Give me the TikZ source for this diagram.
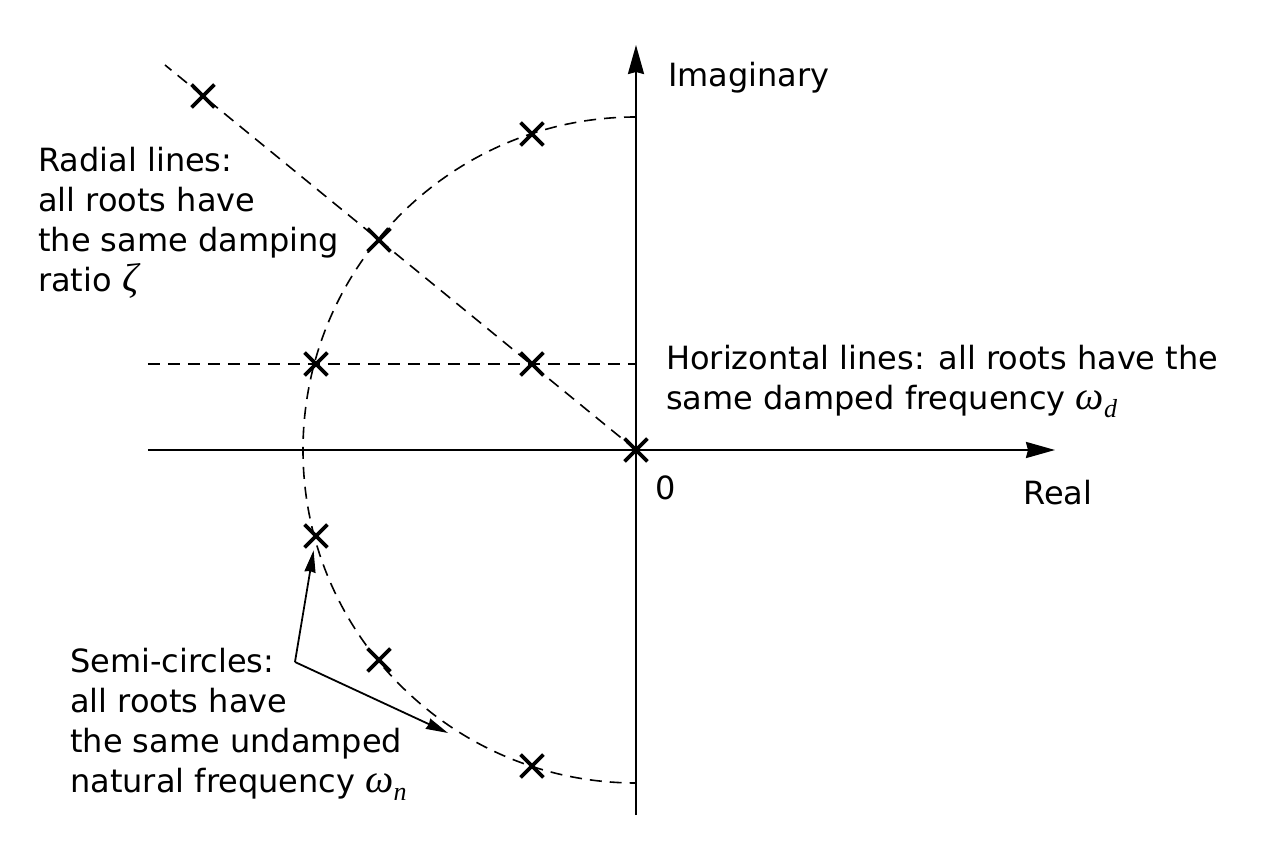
\documentclass[tikz,border=0pt]{standalone}
\usepackage{fontspec}
\setmainfont{DejaVu Sans}
\newfontfamily\grkfont{Liberation Serif}
\usetikzlibrary{positioning,arrows.meta,shapes.misc}

% italic serif symbols, with a lowered subscript
\newcommand{\grkit}[1]{{\fontsize{40}{40}\selectfont\grkfont\itshape #1}}
\newcommand{\omsub}[1]{\grkit{ω}\raisebox{-8pt}{\fontsize{26}{26}\selectfont\grkfont\itshape #1}}

\begin{document}
\begin{tikzpicture}[
	x=1pt, y=1pt,
	font=\fontsize{32}{40}\selectfont,
	% Define styles for the plot elements
	axis/.style={line width=2.2pt, -{Stealth[length=29pt,width=16pt,inset=2pt]}},
	guide/.style={line width=1.6pt, dash pattern=on 12pt off 8pt},
	root/.style={cross out, draw, line width=3.8pt, minimum size=19pt, inner sep=0pt},
	label/.style={align=left, anchor=base west, inner sep=0pt},
	pointer/.style={line width=1.8pt, -{Stealth[length=22pt,width=11pt,inset=1pt]}, shorten >=3pt}
	]

	\useasboundingbox (-636,-398) rectangle (625,450);

	% --- Coordinates ---
	\coordinate (O) at (0,0);
	\coordinate (reL) at (-488,0);
	\coordinate (reR) at (419,0);
	\coordinate (imB) at (0,-365);
	\coordinate (imT) at (0,405);
	\coordinate (radEnd) at (-471,385);
	\coordinate (hzL) at (-488,86);
	\coordinate (hzR) at (0,86);
	\coordinate (circT) at (0,333);

	% --- Guide lines ---
	\draw[guide] (O) -- (radEnd);
	\draw[guide] (hzL) -- (hzR);
	\draw[guide] (circT) arc[start angle=90, end angle=270, radius=333];

	% --- Axes ---
	\draw[axis] (reL) -- (reR);
	\draw[axis] (imB) -- (imT);

	% --- Roots ---
	\node[root] (p0) at (O) {};
	\node[root] (pa) at (-433,354) {};
	\node[root] (pb) at (-104,316) {};
	\node[root] (pc) at (-257,210) {};
	\node[root] (pd) at (-320,86) {};
	\node[root] (pe) at (-104,86) {};
	\node[root] (pf) at (-320,-86) {};
	\node[root] (pg) at (-257,-210) {};
	\node[root] (ph) at (-104,-316) {};

	% --- Labels (base is the last line) ---
	\node[label] (imlab) at (32,363) {Imaginary};
	\node[label] (relab) at (387,-55) {Real};
	\node[label] (zero) at (19,-50) {0};
	\node[label] (hztext) at (30,40) {Horizontal lines: all roots have the\\same damped frequency \omsub{d}};
	\node[label] (radtext) at (-598,158) {Radial lines:\\all roots have\\the same damping\\ratio \grkit{ζ}};
	\node[label] (semitext) at (-566,-342) {Semi-circles:\\all roots have\\the same undamped\\natural frequency \omsub{n}};

	% --- Pointers from the semi-circle label ---
	\coordinate (semiFrom) at (-341,-212);
	\coordinate (semiTo) at (-188,-283);
	\draw[pointer] (semiFrom) -- (pf);
	\draw[pointer, shorten >=0pt] (semiFrom) -- (semiTo);

\end{tikzpicture}
\end{document}
